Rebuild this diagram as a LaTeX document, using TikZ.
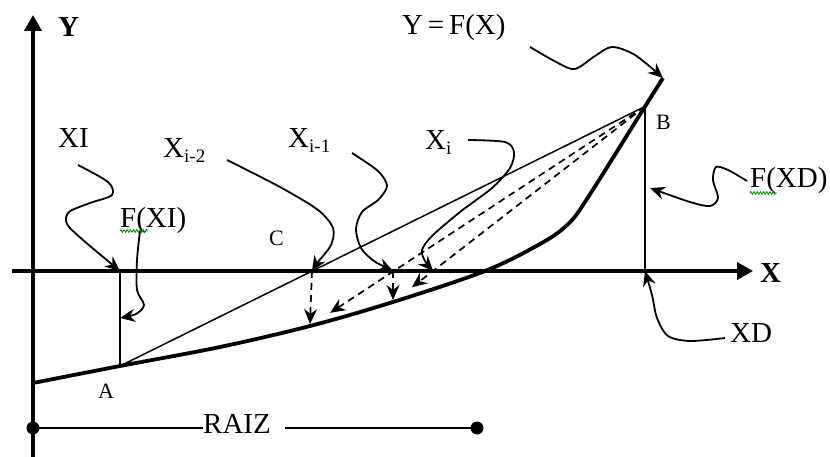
\documentclass[tikz,border=0pt]{standalone}
\usepackage{fontspec}
\setmainfont{Liberation Serif}
\usetikzlibrary{arrows.meta,decorations.pathmorphing,calc}
\begin{document}
\begin{tikzpicture}[x=1pt,y=1pt,
  lbl/.style={anchor=base west,inner sep=0pt,font=\fontsize{29}{32}\selectfont},
  blbl/.style={anchor=base west,inner sep=0pt,font=\fontsize{29}{32}\selectfont\bfseries},
  slbl/.style={anchor=base west,inner sep=0pt,font=\fontsize{22}{24}\selectfont},
  axisln/.style={line width=3.8pt,-{Triangle[length=16pt,width=17pt]}},
  curveln/.style={line width=3.8pt,line join=round},
  thinln/.style={line width=1.5pt},
  noteln/.style={line width=1.8pt,-{Stealth[length=15pt,width=13pt,inset=5pt]}},
  dshln/.style={line width=1.7pt,dash pattern=on 7pt off 5pt,-{Stealth[length=15pt,width=13pt,inset=5pt]}},
  dotnode/.style={circle,fill,inner sep=0pt,minimum size=13pt},
  squig/.style={draw=green!60!black,line width=0.9pt,decorate,decoration={zigzag,amplitude=1.3pt,segment length=3.2pt}}
]
\useasboundingbox (0,0) rectangle (830,-457);
\newcommand{\subs}[1]{{\fontsize{19}{20}\selectfont\raisebox{-5pt}{#1}}}

% axes
\coordinate (Ybot) at (33,-457);
\coordinate (Ytop) at (33,-15);
\coordinate (Xleft) at (12,-271);
\coordinate (Xright) at (753,-271);
\draw[axisln] (Ybot) -- (Ytop);
\draw[axisln] (Xleft) -- (Xright);
\node[blbl] (ylab) at (58,-37) {Y};
\node[blbl] (xlab) at (760,-283) {X};

% key points
\coordinate (A) at (120,-366);
\coordinate (B) at (645,-106.5);
\coordinate (P2) at (310,-326);
\coordinate (P1) at (393,-302);
\coordinate (XIax) at (120,-271);
\coordinate (XDax) at (645,-271);
\coordinate (C2ax) at (312,-271);
\coordinate (C1ax) at (393,-271);
\coordinate (Ciax) at (433,-271);
\coordinate (Tip) at (663,-78);

% curve
\draw[curveln] plot[smooth,tension=0.55] coordinates {(33,-383) (A) (220,-347) (P2) (P1) (485,-271) (540,-244) (566,-226) (585,-202) (B) (Tip)};

% chord and verticals
\draw[thinln] (A) -- (B);
\draw[thinln] (XIax) -- (A);
\draw[thinln] (B) -- (XDax);

% dashed iterations
\coordinate (P2tip) at (310,-324);
\coordinate (P1tip) at (393,-300);
\draw[dshln] (C2ax) -- (P2tip);
\draw[dshln] (C1ax) -- (P1tip);
\draw[dshln] (B) -- ($(B)!0.94!(P2)$);
\draw[dshln] (B) -- ($(B)!0.925!(P1)$);

% labels
\node[lbl] (yfx) at (402,-35) {Y\,=\,F(X)};
\node[lbl] (xi) at (58,-148) {XI};
\node[lbl] (xim2) at (163,-158) {X\subs{i-2}};
\node[lbl] (xim1) at (288,-148) {X\subs{i-1}};
\node[lbl] (xii) at (425,-150) {X\subs{i}};
\node[lbl] (fxi) at (120,-228) {F(XI)};
\node[lbl] (fxd) at (750,-188) {F(XD)};
\node[lbl] (xd) at (730,-342) {XD};
\node[slbl] (alab) at (98,-398) {A};
\node[slbl] (blab) at (656,-130) {B};
\node[slbl] (clab) at (269,-245) {C};

% spell-check squiggles
\draw[squig] (750,-193) -- (777,-193);
\draw[squig] (120,-231) -- (148,-231);

% annotation arrows
\coordinate (yfxS) at (530,-47);
\draw[noteln] plot[smooth] coordinates {(yfxS) (558,-63) (575,-69) (595,-56) (612,-47) (635,-55) (Tip)};
\coordinate (fxdS) at (747,-181);
\coordinate (fxdT) at (650,-188);
\draw[noteln] plot[smooth] coordinates {(fxdS) (728,-170) (716,-167) (713,-180) (718,-198) (710,-206) (690,-202) (fxdT)};
\coordinate (xdS) at (725,-338);
\draw[noteln] plot[smooth] coordinates {(xdS) (690,-341) (668,-336) (657,-318) (652,-295) (XDax)};
\coordinate (xiS) at (78,-165);
\draw[noteln] plot[smooth] coordinates {(xiS) (108,-182) (112,-195) (90,-203) (69,-212) (67,-224) (83,-240) (XIax)};
\coordinate (fxiS) at (140,-231);
\coordinate (fxiT) at (120,-318);
\draw[noteln] plot[smooth] coordinates {(fxiS) (137,-260) (137,-290) (144,-305) (136,-314) (fxiT)};
\coordinate (xim2S) at (227,-160);
\draw[noteln] plot[smooth] coordinates {(xim2S) (280,-187) (318,-210) (333,-228) (331,-245) (318,-262) (C2ax)};
\coordinate (xim1S) at (352,-153);
\draw[noteln] plot[smooth] coordinates {(xim1S) (378,-171) (387,-186) (378,-200) (362,-212) (356,-229) (361,-248) (374,-261) (C1ax)};
\coordinate (xiiS) at (468,-140);
\draw[noteln] plot[smooth] coordinates {(xiiS) (505,-142) (514,-152) (510,-168) (492,-188) (460,-212) (432,-236) (422,-250) (425,-261) (Ciax)};

% RAIZ
\node[dotnode] (dL) at (33,-428) {};
\node[dotnode] (dR) at (477,-428) {};
\node[lbl] (raiz) at (203,-433) {RAIZ};
\draw[line width=1.8pt] (dL.center) -- (raiz.west |- dL.center);
\draw[line width=1.8pt] ([xshift=14pt]raiz.east |- dR.center) -- (dR.center);
\end{tikzpicture}
\end{document}
